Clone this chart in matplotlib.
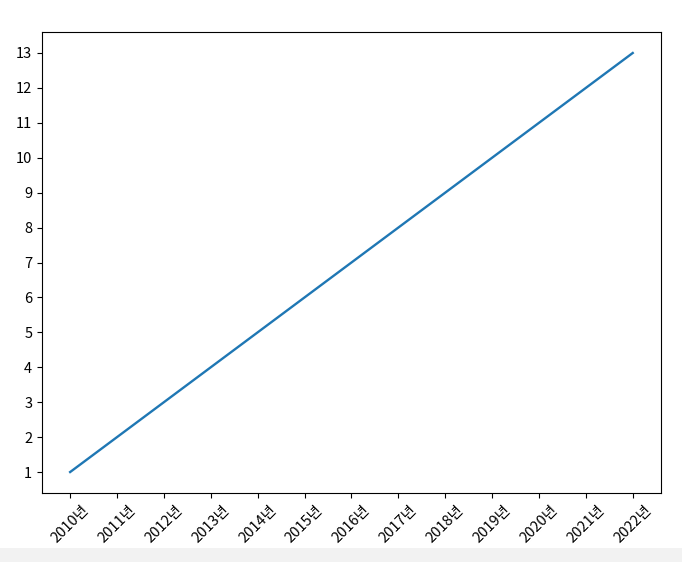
import matplotlib
matplotlib.use('Agg')
import matplotlib.pyplot as plt
from matplotlib.patches import Rectangle

plt.rcParams['font.family'] = ['Noto Sans CJK KR', 'DejaVu Sans']

years = ['2010년', '2011년', '2012년', '2013년', '2014년', '2015년', '2016년',
         '2017년', '2018년', '2019년', '2020년', '2021년', '2022년']
values = [1, 2, 3, 4, 5, 6, 7, 8, 9, 10, 11, 12, 13]

fig = plt.figure(figsize=(6.82, 5.62), dpi=100)
ax = fig.add_axes([0.0616, 0.1228, 0.9074, 0.8202])

ax.plot(years, values, color='#1f77b4', linewidth=1.7)
ax.set_yticks(values)
ax.tick_params(axis='x', rotation=45, labelsize=10.5)
ax.tick_params(axis='y', labelsize=10.5)

# light strip at the very bottom of the screenshot
fig.patches.append(Rectangle((0, 0), 1, 14 / 562, transform=fig.transFigure,
                             facecolor='#f2f2f2', edgecolor='none', zorder=0))

fig.savefig('out.png', dpi=100)
